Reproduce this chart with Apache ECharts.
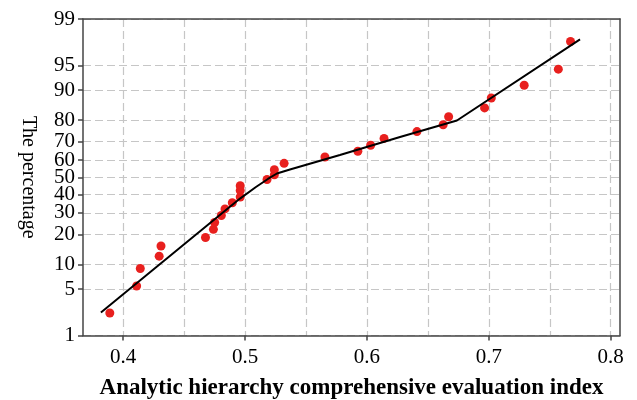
<!DOCTYPE html>
<html>
<head>
<meta charset="utf-8">
<script src="https://cdn.jsdelivr.net/npm/echarts@6/dist/echarts.min.js"></script>
<style>
html,body{margin:0;padding:0;background:#fff;}
#main{width:637px;height:400px;}
</style>
</head>
<body>
<div id="main"></div>
<script>
// sample points: evaluation index and cumulative percentage
var evalIndex = [0.389,0.411,0.414,0.4295,0.431,0.4675,0.474,0.475,0.4805,0.4835,
                 0.4895,0.496,0.496,0.496,0.518,0.524,0.524,0.532,0.5655,0.5925,
                 0.603,0.614,0.641,0.6625,0.667,0.6965,0.702,0.729,0.757,0.767];
var percent = [2.3,5.5,9.0,12.3,15.6,18.8,22.2,25.3,28.7,32.1,
               35.4,38.6,42.3,45.1,48.7,51.4,54.4,58.1,61.7,64.9,
               68.1,71.6,74.9,78.0,81.3,84.6,87.8,91.2,94.4,97.7];
// fitted line
var fitX = [0.3817,0.4958,0.5089,0.5187,0.5261,0.5368,0.5778,0.6271,0.6738,0.7748];
var fitP = [2.34,37.7,44.3,49.0,52.2,54.5,62.8,72.3,79.8,97.87];
// axis ticks
var yTicks = [1,5,10,20,30,40,50,60,70,80,90,95,99];
var xTicks = [0.4,0.5,0.6,0.7,0.8];
var xGrid = [0.4,0.45,0.5,0.55,0.6,0.65,0.7,0.75,0.8];

// inverse normal cdf (Acklam) -> probability scale
function probit(p){
	var a=[-3.969683028665376e+01,2.209460984245205e+02,-2.759285104469687e+02,1.383577518672690e+02,-3.066479806614716e+01,2.506628277459239e+00];
	var b=[-5.447609879822406e+01,1.615858368580409e+02,-1.556989798598866e+02,6.680131188771972e+01,-1.328068155288572e+01];
	var c=[-7.784894002430293e-03,-3.223964580411365e-01,-2.400758277161838e+00,-2.549732539343734e+00,4.374664141464968e+00,2.938163982698783e+00];
	var d=[7.784695709041462e-03,3.224671290700398e-01,2.445134137142996e+00,3.754408661907416e+00];
	var pl=0.02425,q,r;
	if(p<pl){
		q=Math.sqrt(-2*Math.log(p));
		return (((((c[0]*q+c[1])*q+c[2])*q+c[3])*q+c[4])*q+c[5])/((((d[0]*q+d[1])*q+d[2])*q+d[3])*q+1);
	}
	if(p>1-pl){
		q=Math.sqrt(-2*Math.log(1-p));
		return -(((((c[0]*q+c[1])*q+c[2])*q+c[3])*q+c[4])*q+c[5])/((((d[0]*q+d[1])*q+d[2])*q+d[3])*q+1);
	}
	q=p-0.5;r=q*q;
	return (((((a[0]*r+a[1])*r+a[2])*r+a[3])*r+a[4])*r+a[5])*q/(((((b[0]*r+b[1])*r+b[2])*r+b[3])*r+b[4])*r+1);
}

var yZ = yTicks.map(function(t){ return probit(t/100); });
var pts = evalIndex.map(function(x,i){ return [x, probit(percent[i]/100)]; });
var fit = fitX.map(function(x,i){ return [x, probit(fitP[i]/100)]; });

var font = 'Liberation Serif';
var gridLine = {show:true, lineStyle:{color:'#c6c6c6', width:1.2, type:[8,4]}};
var frame = {show:true, onZero:false, lineStyle:{color:'#444', width:1.5}};

var myChart = echarts.init(document.getElementById('main'));
var option = {
	backgroundColor:'#fff',
	animation:false,
	grid:{left:83, right:17, top:19, bottom:64.5, outerBoundsMode:'none'},
	xAxis:[
		{
			type:'value', position:'bottom',
			min:0.367, max:0.8076,
			name:'Analytic hierarchy comprehensive evaluation index',
			nameLocation:'middle', nameGap:41,
			nameTextStyle:{fontFamily:font, fontSize:23, fontWeight:'bold', color:'#000'},
			axisLine:frame,
			axisTick:{show:true, inside:false, length:5, customValues:xTicks, lineStyle:{color:'#444', width:1.5}},
			axisLabel:{customValues:xTicks, margin:11, fontFamily:font, fontSize:21, color:'#000'},
			splitLine:{show:false}
		},
		{
			type:'value', position:'top',
			min:0.367, max:0.8076,
			axisLine:frame,
			axisTick:{show:false, customValues:xGrid},
			axisLabel:{show:false},
			splitLine:gridLine
		}
	],
	yAxis:[
		{
			type:'value', position:'left',
			min:yZ[0], max:yZ[yZ.length-1],
			name:'The percentage',
			nameLocation:'middle', nameGap:45, nameRotate:-90,
			nameTextStyle:{fontFamily:font, fontSize:20, color:'#000'},
			axisLine:frame,
			axisTick:{show:true, inside:false, length:5, customValues:yZ, lineStyle:{color:'#444', width:1.5}},
			axisLabel:{
				customValues:yZ, margin:8, fontFamily:font, fontSize:21, color:'#000',
				formatter:function(v){
					for(var i=0;i<yZ.length;i++){
						if(Math.abs(yZ[i]-v)<1e-3) return String(yTicks[i]);
					}
					return '';
				}
			},
			splitLine:gridLine
		},
		{
			type:'value', position:'right',
			min:yZ[0], max:yZ[yZ.length-1],
			axisLine:frame,
			axisTick:{show:false},
			axisLabel:{show:false},
			splitLine:{show:false}
		}
	],
	series:[
		{
			name:'data', type:'scatter',
			xAxisIndex:0, yAxisIndex:0,
			symbol:'circle', symbolSize:9,
			itemStyle:{color:'#e8201e', opacity:1},
			data:pts, z:2
		},
		{
			name:'fit', type:'line',
			xAxisIndex:0, yAxisIndex:0,
			symbol:'none',
			lineStyle:{color:'#000', width:2},
			data:fit, z:3
		}
	]
};
myChart.setOption(option);
</script>
</body>
</html>
